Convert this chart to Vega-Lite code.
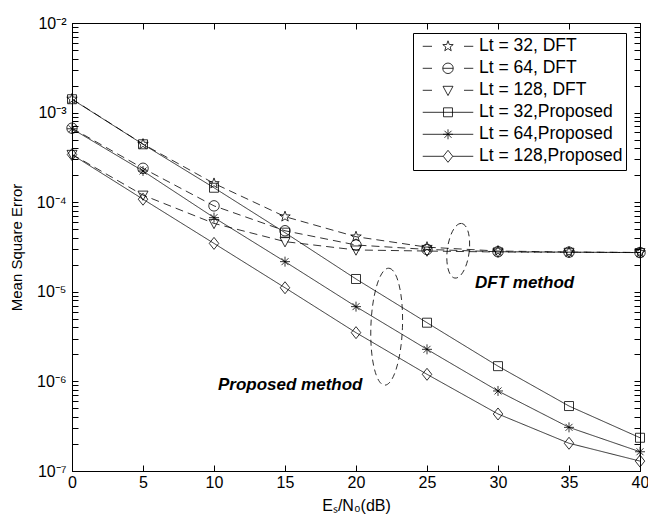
{
  "$schema": "https://vega.github.io/schema/vega-lite/v6.json",
  "autosize": {"type": "none"},
  "padding": {"left": 72, "top": 23, "right": 8, "bottom": 50},
  "width": 568,
  "height": 448,
  "background": "white",
  "config": {
    "view": {"stroke": "black", "strokeWidth": 1},
    "font": "Liberation Sans",
    "axis": {
      "labelFont": "Liberation Sans",
      "titleFont": "Liberation Sans",
      "labelColor": "black",
      "titleColor": "black",
      "domainColor": "black",
      "tickColor": "black",
      "grid": false,
      "titleFontWeight": "normal",
      "labelFontSize": 16,
      "titleFontSize": 16,
      "labelFlush": false,
      "labelOverlap": false
    }
  },
  "datasets": {
    "mse": [
      {"snr": 0, "mse": 1.42e-3, "series": "Lt = 32, DFT"},
      {"snr": 5, "mse": 4.45e-4, "series": "Lt = 32, DFT"},
      {"snr": 10, "mse": 1.62e-4, "series": "Lt = 32, DFT"},
      {"snr": 15, "mse": 6.9e-5, "series": "Lt = 32, DFT"},
      {"snr": 20, "mse": 4.12e-5, "series": "Lt = 32, DFT"},
      {"snr": 25, "mse": 3.15e-5, "series": "Lt = 32, DFT"},
      {"snr": 30, "mse": 2.85e-5, "series": "Lt = 32, DFT"},
      {"snr": 35, "mse": 2.78e-5, "series": "Lt = 32, DFT"},
      {"snr": 40, "mse": 2.75e-5, "series": "Lt = 32, DFT"},
      {"snr": 0, "mse": 6.7e-4, "series": "Lt = 64, DFT"},
      {"snr": 5, "mse": 2.39e-4, "series": "Lt = 64, DFT"},
      {"snr": 10, "mse": 9.1e-5, "series": "Lt = 64, DFT"},
      {"snr": 15, "mse": 4.8e-5, "series": "Lt = 64, DFT"},
      {"snr": 20, "mse": 3.33e-5, "series": "Lt = 64, DFT"},
      {"snr": 25, "mse": 2.97e-5, "series": "Lt = 64, DFT"},
      {"snr": 30, "mse": 2.8e-5, "series": "Lt = 64, DFT"},
      {"snr": 35, "mse": 2.77e-5, "series": "Lt = 64, DFT"},
      {"snr": 40, "mse": 2.74e-5, "series": "Lt = 64, DFT"},
      {"snr": 0, "mse": 3.42e-4, "series": "Lt = 128, DFT"},
      {"snr": 5, "mse": 1.2e-4, "series": "Lt = 128, DFT"},
      {"snr": 10, "mse": 5.8e-5, "series": "Lt = 128, DFT"},
      {"snr": 15, "mse": 3.63e-5, "series": "Lt = 128, DFT"},
      {"snr": 20, "mse": 2.93e-5, "series": "Lt = 128, DFT"},
      {"snr": 25, "mse": 2.85e-5, "series": "Lt = 128, DFT"},
      {"snr": 30, "mse": 2.78e-5, "series": "Lt = 128, DFT"},
      {"snr": 35, "mse": 2.76e-5, "series": "Lt = 128, DFT"},
      {"snr": 40, "mse": 2.74e-5, "series": "Lt = 128, DFT"},
      {"snr": 0, "mse": 1.41e-3, "series": "Lt = 32,Proposed"},
      {"snr": 5, "mse": 4.43e-4, "series": "Lt = 32,Proposed"},
      {"snr": 10, "mse": 1.45e-4, "series": "Lt = 32,Proposed"},
      {"snr": 15, "mse": 4.57e-5, "series": "Lt = 32,Proposed"},
      {"snr": 20, "mse": 1.39e-5, "series": "Lt = 32,Proposed"},
      {"snr": 25, "mse": 4.52e-6, "series": "Lt = 32,Proposed"},
      {"snr": 30, "mse": 1.48e-6, "series": "Lt = 32,Proposed"},
      {"snr": 35, "mse": 5.31e-7, "series": "Lt = 32,Proposed"},
      {"snr": 40, "mse": 2.35e-7, "series": "Lt = 32,Proposed"},
      {"snr": 0, "mse": 6.6e-4, "series": "Lt = 64,Proposed"},
      {"snr": 5, "mse": 2.23e-4, "series": "Lt = 64,Proposed"},
      {"snr": 10, "mse": 6.73e-5, "series": "Lt = 64,Proposed"},
      {"snr": 15, "mse": 2.17e-5, "series": "Lt = 64,Proposed"},
      {"snr": 20, "mse": 6.83e-6, "series": "Lt = 64,Proposed"},
      {"snr": 25, "mse": 2.28e-6, "series": "Lt = 64,Proposed"},
      {"snr": 30, "mse": 7.82e-7, "series": "Lt = 64,Proposed"},
      {"snr": 35, "mse": 3.07e-7, "series": "Lt = 64,Proposed"},
      {"snr": 40, "mse": 1.64e-7, "series": "Lt = 64,Proposed"},
      {"snr": 0, "mse": 3.4e-4, "series": "Lt = 128,Proposed"},
      {"snr": 5, "mse": 1.08e-4, "series": "Lt = 128,Proposed"},
      {"snr": 10, "mse": 3.47e-5, "series": "Lt = 128,Proposed"},
      {"snr": 15, "mse": 1.11e-5, "series": "Lt = 128,Proposed"},
      {"snr": 20, "mse": 3.5e-6, "series": "Lt = 128,Proposed"},
      {"snr": 25, "mse": 1.2e-6, "series": "Lt = 128,Proposed"},
      {"snr": 30, "mse": 4.33e-7, "series": "Lt = 128,Proposed"},
      {"snr": 35, "mse": 2.04e-7, "series": "Lt = 128,Proposed"},
      {"snr": 40, "mse": 1.29e-7, "series": "Lt = 128,Proposed"}
    ],
    "notes": [
      {"snr": 28.38, "mse": 1.24e-5, "label": "DFT method"},
      {"snr": 10.28, "mse": 9.12e-7, "label": "Proposed method"}
    ]
  },
  "layer": [
    {
      "data": {"name": "mse"},
      "mark": {"type": "line", "color": "black", "strokeWidth": 0.8},
      "encoding": {
        "x": {
          "field": "snr", "type": "quantitative",
          "scale": {"domain": [0, 40], "nice": false, "zero": false},
          "axis": {
            "orient": "bottom",
            "values": [0, 5, 10, 15, 20, 25, 30, 35, 40],
            "tickSize": -6,
            "labelPadding": 9,
            "title": "Eₛ/N₀(dB)",
            "titlePadding": 7
          }
        },
        "y": {
          "field": "mse", "type": "quantitative",
          "scale": {"type": "log", "domain": [1e-7, 1e-2], "nice": false},
          "axis": {
            "orient": "left",
            "values": [1e-7, 2e-7, 3e-7, 4e-7, 5e-7, 6e-7, 7e-7, 8e-7, 9e-7, 1e-6, 2e-6, 3e-6, 4e-6, 5e-6, 6e-6, 7e-6, 8e-6, 9e-6, 1e-5, 2e-5, 3e-5, 4e-5, 5e-5, 6e-5, 7e-5, 8e-5, 9e-5, 1e-4, 2e-4, 3e-4, 4e-4, 5e-4, 6e-4, 7e-4, 8e-4, 9e-4, 1e-3, 2e-3, 3e-3, 4e-3, 5e-3, 6e-3, 7e-3, 8e-3, 9e-3, 1e-2],
            "tickSize": -6,
            "labelPadding": 12,
            "labelExpr": "abs(log(datum.value)/LN10 - round(log(datum.value)/LN10)) < 0.001 ? '10⁻' + ['⁰','¹','²','³','⁴','⁵','⁶','⁷','⁸','⁹'][-round(log(datum.value)/LN10)] : ''",
            "title": "Mean Square Error",
            "titleFontSize": 15,
            "titlePadding": 12,
            "encode": {
              "ticks": {"update": {"x2": {"signal": "abs(log(datum.value)/LN10 - round(log(datum.value)/LN10)) < 0.001 ? 6 : 3"}}}
            }
          }
        },
        "detail": {"field": "series", "type": "nominal"},
        "strokeDash": {
          "condition": {"test": "indexof(datum.series, 'DFT') >= 0", "value": [8, 5]},
          "value": [1, 0]
        }
      }
    },
    {
      "data": {"name": "mse"},
      "mark": {"type": "point", "filled": false, "color": "black", "strokeWidth": 0.8, "size": 100, "opacity": 1},
      "encoding": {
        "x": {
          "field": "snr", "type": "quantitative",
          "axis": {
            "orient": "top",
            "values": [0, 5, 10, 15, 20, 25, 30, 35, 40],
            "tickSize": -6,
            "labels": false,
            "title": null
          }
        },
        "y": {
          "field": "mse", "type": "quantitative",
          "axis": {
            "orient": "right",
            "values": [1e-7, 2e-7, 3e-7, 4e-7, 5e-7, 6e-7, 7e-7, 8e-7, 9e-7, 1e-6, 2e-6, 3e-6, 4e-6, 5e-6, 6e-6, 7e-6, 8e-6, 9e-6, 1e-5, 2e-5, 3e-5, 4e-5, 5e-5, 6e-5, 7e-5, 8e-5, 9e-5, 1e-4, 2e-4, 3e-4, 4e-4, 5e-4, 6e-4, 7e-4, 8e-4, 9e-4, 1e-3, 2e-3, 3e-3, 4e-3, 5e-3, 6e-3, 7e-3, 8e-3, 9e-3, 1e-2],
            "tickSize": -6,
            "labels": false,
            "title": null,
            "encode": {
              "ticks": {"update": {"x2": {"signal": "abs(log(datum.value)/LN10 - round(log(datum.value)/LN10)) < 0.001 ? -6 : -3"}}}
            }
          }
        },
        "shape": {
          "condition": [
            {"test": "datum.series == 'Lt = 32, DFT'", "value": "M 0 -1.1 L 0.265 -0.364 L 1.046 -0.34 L 0.428 0.139 L 0.647 0.89 L 0 0.45 L -0.647 0.89 L -0.428 0.139 L -1.046 -0.34 L -0.265 -0.364 Z"},
            {"test": "datum.series == 'Lt = 64, DFT'", "value": "M -1.05 0 A 1.05 1.05 0 1 1 1.05 0 A 1.05 1.05 0 1 1 -1.05 0 Z"},
            {"test": "datum.series == 'Lt = 128, DFT'", "value": "M -1 -0.8 L 1 -0.8 L 0 1.05 Z"},
            {"test": "datum.series == 'Lt = 32,Proposed'", "value": "M -0.9 -0.9 L 0.9 -0.9 L 0.9 0.9 L -0.9 0.9 Z"},
            {"test": "datum.series == 'Lt = 64,Proposed'", "value": "M -1 0 L 1 0 M 0 -1 L 0 1 M -0.7 -0.7 L 0.7 0.7 M -0.7 0.7 L 0.7 -0.7"}
          ],
          "value": "M 0 -1.2 L 0.95 0 L 0 1.2 L -0.95 0 Z"
        }
      }
    },
    {
      "data": {"name": "mse"},
      "transform": [{"filter": "false"}],
      "mark": {"type": "point", "filled": false, "color": "black", "strokeWidth": 0.8, "opacity": 1},
      "encoding": {
        "x": {"field": "snr", "type": "quantitative", "axis": null},
        "y": {"field": "mse", "type": "quantitative", "axis": null},
        "shape": {
          "field": "series", "type": "nominal",
          "scale": {
            "domain": ["Lt = 32, DFT", "Lt = 64, DFT", "Lt = 128, DFT", "Lt = 32,Proposed", "Lt = 64,Proposed", "Lt = 128,Proposed"],
            "range": [
              "M -0.79 0 L -0.5 0 M 0.5 0 L 0.79 0 M 0 -0.172 L 0.041 -0.057 L 0.163 -0.053 L 0.067 0.022 L 0.101 0.139 L 0 0.07 L -0.101 0.139 L -0.067 0.022 L -0.163 -0.053 L -0.041 -0.057 Z",
              "M -0.79 0 L -0.5 0 M 0.5 0 L 0.79 0 M -0.164 0 A 0.164 0.164 0 1 1 0.164 0 A 0.164 0.164 0 1 1 -0.164 0 Z M -0.164 0 L 0.164 0",
              "M -0.79 0 L -0.5 0 M 0.5 0 L 0.79 0 M -0.156 -0.125 L 0.156 -0.125 L 0 0.164 Z",
              "M -0.79 0 L 0.79 0 M -0.14 -0.14 L 0.14 -0.14 L 0.14 0.14 L -0.14 0.14 Z",
              "M -0.79 0 L 0.79 0 M -0.156 0 L 0.156 0 M 0 -0.156 L 0 0.156 M -0.11 -0.11 L 0.11 0.11 M -0.11 0.11 L 0.11 -0.11",
              "M -0.79 0 L -0.148 0 M 0.148 0 L 0.79 0 M 0 -0.1875 L 0.148 0 L 0 0.1875 L -0.148 0 Z"
            ]
          },
          "legend": {
            "orient": "none",
            "legendX": 341,
            "legendY": 10,
            "title": null,
            "padding": 2.5,
            "strokeColor": "black",
            "fillColor": "white",
            "cornerRadius": 0,
            "labelFont": "Liberation Sans",
            "labelFontSize": 17.5,
            "labelColor": "black",
            "symbolSize": 4096,
            "symbolStrokeColor": "black",
            "symbolStrokeWidth": 0.8,
            "symbolFillColor": "transparent",
            "clipHeight": 21.6,
            "rowPadding": 0,
            "labelOffset": -1.5
          }
        }
      }
    },
    {
      "data": {"values": [{"snr": 27.2, "mse": 2.87e-5}]},
      "mark": {"type": "point", "shape": "M 0 -1 A 0.4 1 0 1 1 0 1 A 0.4 1 0 1 1 0 -1 Z", "size": 3025, "filled": false, "color": "black", "strokeWidth": 0.8, "strokeDash": [6, 4], "angle": 7, "opacity": 1},
      "encoding": {
        "x": {"field": "snr", "type": "quantitative", "axis": null},
        "y": {"field": "mse", "type": "quantitative", "axis": null}
      }
    },
    {
      "data": {"values": [{"snr": 22.16, "mse": 4.08e-6}]},
      "mark": {"type": "point", "shape": "M 0 -1 A 0.27 1 0 1 1 0 1 A 0.27 1 0 1 1 0 -1 Z", "size": 13689, "filled": false, "color": "black", "strokeWidth": 0.8, "strokeDash": [6, 4], "angle": 2, "opacity": 1},
      "encoding": {
        "x": {"field": "snr", "type": "quantitative", "axis": null},
        "y": {"field": "mse", "type": "quantitative", "axis": null}
      }
    },
    {
      "data": {"name": "notes"},
      "mark": {"type": "text", "align": "left", "baseline": "middle", "font": "Liberation Sans", "fontSize": 17, "fontWeight": "bold", "fontStyle": "italic", "color": "black"},
      "encoding": {
        "x": {"field": "snr", "type": "quantitative", "axis": null},
        "y": {"field": "mse", "type": "quantitative", "axis": null},
        "text": {"field": "label", "type": "nominal"}
      }
    }
  ],
  "resolve": {"axis": {"x": "independent", "y": "independent"}}
}
